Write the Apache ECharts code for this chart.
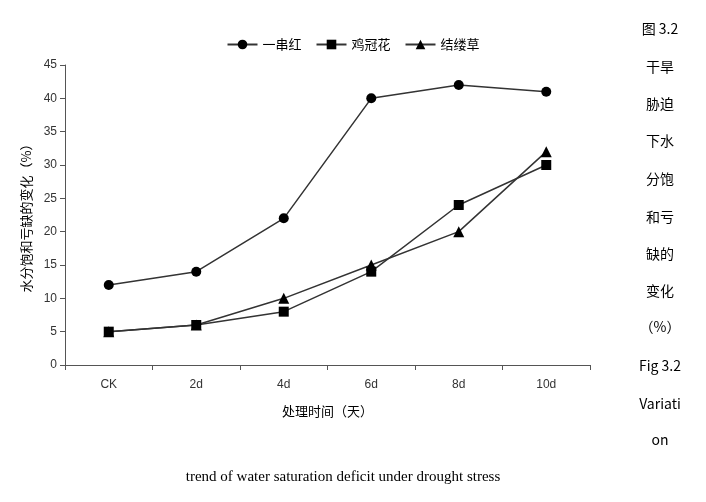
<!DOCTYPE html>
<html><head><meta charset="utf-8">
<script src="https://cdn.jsdelivr.net/npm/echarts@6/dist/echarts.min.js"></script>
<style>html,body{margin:0;padding:0;background:#fff}#c{width:706px;height:502px}</style>
</head><body><div id="c"></div>
<script>
const categories=['CK','2d','4d','6d','8d','10d'];
const s1=[12,14,22,40,42,41];
const s2=[5,6,8,14,24,30];
const s3=[5,6,10,15,20,32];
const names=['一串红','鸡冠花','结缕草'];
const sideText=['图 3.2','干旱','胁迫','下水','分饱','和亏','缺的','变化','（%）','Fig 3.2','Variati','on'];
const sideY=[30,68,105,142,180,218,255,292,328,367,405,441];
const chart=echarts.init(document.getElementById('c'));
const mk=(n,d,sym,size)=>({name:n,type:'line',data:d,symbol:sym,symbolSize:size,
 lineStyle:{color:'#333',width:1.5},itemStyle:{color:'#000'}});
const g=sideText.map((t,i)=>({type:'text',x:660,y:sideY[i]-8,style:{text:t,font:'14px "Noto Sans CJK SC", serif',fill:'#000',textAlign:'center'}}));
g.push({type:'text',x:343,y:470,style:{text:'trend of water saturation deficit under drought stress',font:'15px "Liberation Serif", serif',fill:'#000',textAlign:'center'}});
chart.setOption({
 animation:false,
 legend:{top:33,left:'center',itemWidth:30,itemHeight:12,itemGap:14,textStyle:{fontSize:13,color:'#000',fontFamily:'Noto Sans CJK SC'},data:names},
 grid:{left:65,right:116,top:65,bottom:137},
 xAxis:{type:'category',data:categories,boundaryGap:true,name:'处理时间（天）',nameLocation:'middle',nameGap:40,
  nameTextStyle:{fontSize:13,color:'#000',fontFamily:'Noto Sans CJK SC'},
  axisLine:{lineStyle:{color:'#555'}},axisTick:{show:true,lineStyle:{color:'#555'}},
  axisLabel:{color:'#333',fontSize:12,margin:14}},
 yAxis:{type:'value',min:0,max:45,interval:5,name:'水分饱和亏缺的变化（%）',nameLocation:'middle',nameGap:32,
  nameTextStyle:{fontSize:13,color:'#000',fontFamily:'Noto Sans CJK SC'},
  axisLine:{show:true,lineStyle:{color:'#555'}},axisTick:{show:true,lineStyle:{color:'#555'}},splitLine:{show:false},
  axisLabel:{color:'#333',fontSize:12}},
 series:[mk(names[0],s1,'circle',10),mk(names[1],s2,'rect',10),mk(names[2],s3,'triangle',11)],
 graphic:g
});
</script></body></html>
